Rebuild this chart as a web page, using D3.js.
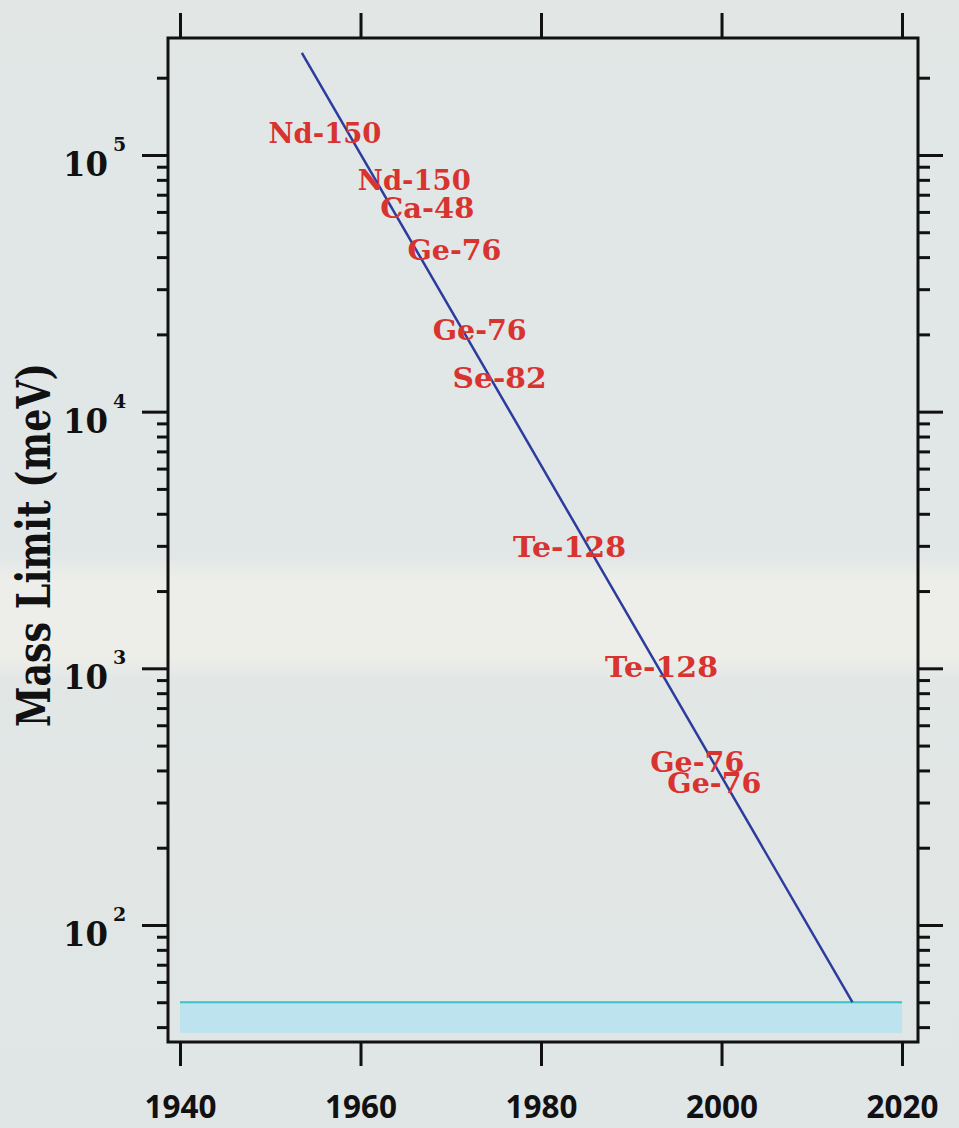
<!DOCTYPE html>
<html>
<head>
<meta charset="utf-8">
<script src="https://cdn.jsdelivr.net/npm/d3@7"></script>
<style>
html, body { margin: 0; padding: 0; }
body {
  width: 959px; height: 1128px; overflow: hidden;
  background: linear-gradient(to bottom, #e2e7e6 0px, #e1e6e6 555px, #edeee9 580px, #eeeee9 655px, #e2e7e6 680px, #e0e5e5 1128px);
}
svg { display: block; }
</style>
</head>
<body>
<svg id="chart" width="959" height="1128"></svg>
<script>
// values
const tickYears = [1940, 1960, 1980, 2000, 2020];
const decades = [100, 1000, 10000, 100000];
const decadeExp = ["2", "3", "4", "5"];
const trendYears = [1953.5, 2014.5];
const trendMass = [250000, 50];
const bandYears = [1940, 2020];
const bandMass = [38, 50];
const labelText = ["Nd-150", "Nd-150", "Ca-48", "Ge-76", "Ge-76", "Se-82", "Te-128", "Te-128", "Ge-76", "Ge-76"];
const labelYear = [1949.8, 1959.7, 1962.2, 1965.2, 1968.0, 1970.2, 1976.9, 1987.1, 1992.1, 1994.0];
const labelMass = [122000, 80000, 62000, 42600, 20800, 13500, 2970, 1010, 432, 358];

const margin = {top: 38, right: 41, bottom: 86, left: 168};
const width = 959 - margin.left - margin.right;
const height = 1128 - margin.top - margin.bottom;

const svg = d3.select("#chart");
const g = svg.append("g").attr("transform", `translate(${margin.left},${margin.top})`);

const x = d3.scaleLinear().domain([1938.67, 2021.77]).range([0, width]);
const y = d3.scaleLog().domain([35, 285600]).range([height, 0]);

// no Courier here, a serif squeezed to monospace widths is closest
const serif = "'DejaVu Serif', 'Liberation Serif', serif";

// cyan band + line at the bottom
g.append("rect")
  .attr("x", x(bandYears[0]))
  .attr("y", y(bandMass[1]))
  .attr("width", x(bandYears[1]) - x(bandYears[0]))
  .attr("height", y(bandMass[0]) - y(bandMass[1]))
  .attr("fill", "#bde3ee");

g.append("line")
  .attr("x1", x(bandYears[0])).attr("x2", x(bandYears[1]))
  .attr("y1", y(bandMass[1])).attr("y2", y(bandMass[1]))
  .attr("stroke", "#3dc0c7").attr("stroke-width", 2);

// trend line
const line = d3.line().x(d => x(d[0])).y(d => y(d[1]));
g.append("path")
  .datum(trendYears.map((yr, i) => [yr, trendMass[i]]))
  .attr("d", line)
  .attr("fill", "none")
  .attr("stroke", "#2c3c9e")
  .attr("stroke-width", 2.5);

// isotope labels
g.selectAll(".iso")
  .data(labelText)
  .join("text")
  .attr("class", "iso")
  .attr("x", (d, i) => x(labelYear[i]))
  .attr("y", (d, i) => y(labelMass[i]))
  .attr("dy", "0.36em")
  .attr("font-family", serif)
  .attr("font-weight", "bold")
  .attr("font-size", 27)
  .attr("textLength", d => d.length * 19 - 1)
  .attr("lengthAdjust", "spacingAndGlyphs")
  .attr("fill", "#d8332f")
  .text(d => d);

// axes
const isMajor = v => decades.includes(v);
const yTicks = y.ticks();

const axLeft = g.append("g")
  .call(d3.axisLeft(y).tickValues(yTicks).tickSize(11).tickSizeOuter(0).tickFormat(""));
axLeft.selectAll(".tick line").filter(isMajor).attr("x2", -26);

const axRight = g.append("g").attr("transform", `translate(${width},0)`)
  .call(d3.axisRight(y).tickValues(yTicks).tickSize(12).tickSizeOuter(0).tickFormat(""));
axRight.selectAll(".tick line").filter(isMajor).attr("x2", 25);

const axTop = g.append("g")
  .call(d3.axisTop(x).tickValues(tickYears).tickSize(25).tickSizeOuter(0).tickFormat(""));

const axBottom = g.append("g").attr("transform", `translate(0,${height})`)
  .call(d3.axisBottom(x).tickValues(tickYears).tickSize(24).tickSizeOuter(0).tickPadding(28).tickFormat(d3.format("d")));

[axLeft, axRight, axTop, axBottom].forEach(a => {
  a.select(".domain").remove();
  a.selectAll(".tick line").attr("stroke", "#111").attr("stroke-width", 3);
});

axBottom.selectAll("text")
  .attr("fill", "#111")
  .attr("y", 76)
  .attr("dy", null)
  .attr("font-family", "'Noto Sans', sans-serif")
  .attr("font-weight", "bold")
  .attr("font-size", 33)
  .attr("textLength", 72)
  .attr("lengthAdjust", "spacingAndGlyphs");

// decade labels 10^n
const dec = g.selectAll(".dec")
  .data(decades)
  .join("g")
  .attr("class", "dec")
  .attr("transform", d => `translate(0,${y(d)})`);
dec.append("text")
  .attr("x", -60).attr("y", 21)
  .attr("text-anchor", "end")
  .attr("font-family", serif).attr("font-weight", "bold").attr("font-size", 33)
  .attr("textLength", 45).attr("lengthAdjust", "spacingAndGlyphs")
  .attr("fill", "#111")
  .text("10");
dec.append("text")
  .attr("x", -55).attr("y", -4)
  .attr("font-family", serif).attr("font-weight", "bold").attr("font-size", 19)
  .attr("fill", "#111")
  .text((d, i) => decadeExp[i]);

// frame
g.append("rect")
  .attr("width", width).attr("height", height)
  .attr("fill", "none").attr("stroke", "#111").attr("stroke-width", 3);

// y title
svg.append("text")
  .attr("transform", "translate(33,545) rotate(-90)")
  .attr("text-anchor", "middle")
  .attr("dy", "0.36em")
  .attr("font-family", serif).attr("font-weight", "bold").attr("font-size", 46)
  .attr("textLength", 364).attr("lengthAdjust", "spacingAndGlyphs")
  .attr("fill", "#111")
  .text("Mass Limit (meV)");
</script>
</body>
</html>
